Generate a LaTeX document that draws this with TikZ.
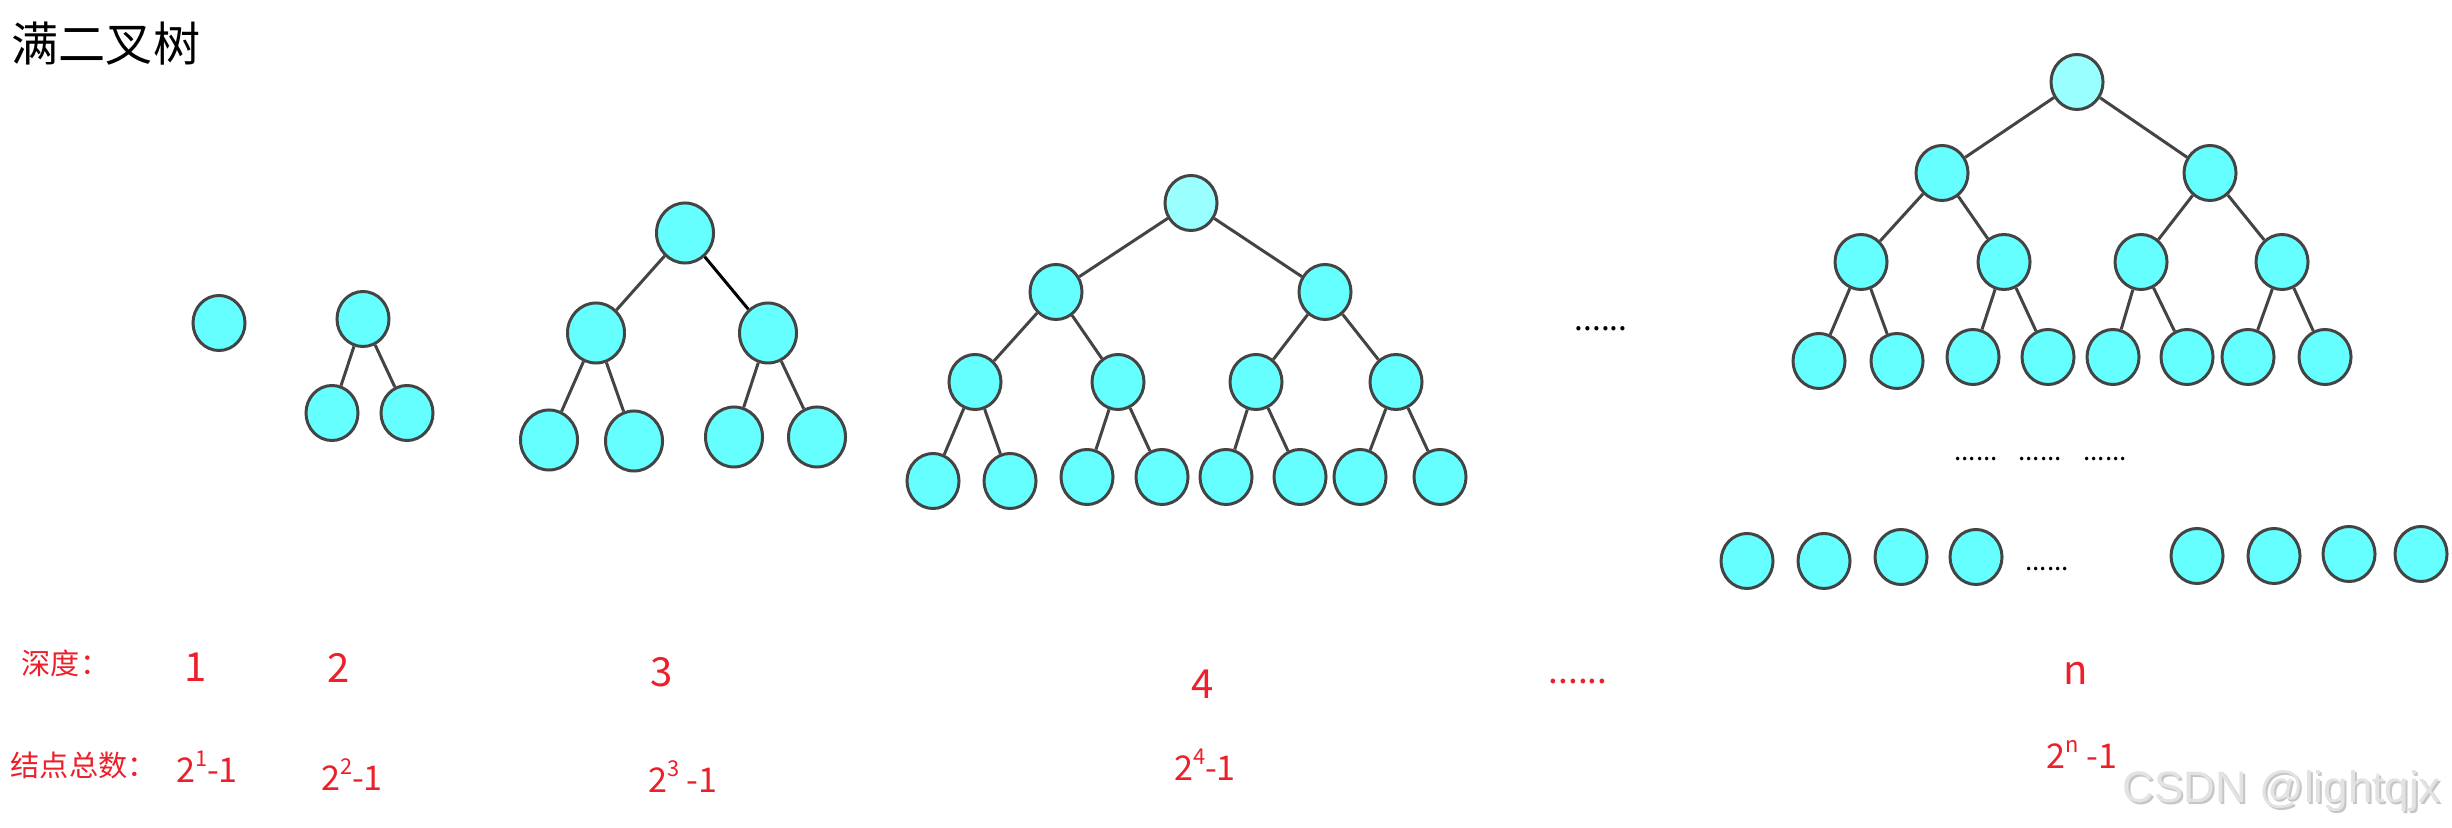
\documentclass[tikz,border=0pt]{standalone}
\usepackage{fontspec}
\setmainfont{Noto Sans CJK SC}
\setsansfont{Liberation Sans}
\usetikzlibrary{shapes.geometric}
\definecolor{nodecyan}{HTML}{66FFFF}
\definecolor{rootcyan}{HTML}{99FFFF}
\definecolor{linegray}{HTML}{444444}
\definecolor{labelred}{RGB}{236,32,42}
\newcommand{\pw}[1]{\raisebox{0.85ex}{\fontsize{6.2}{7}\selectfont #1}}

\begin{document}
\begin{tikzpicture}[x=0.01cm,y=-0.01cm,
    nd/.style={ellipse,draw=linegray,line width=0.85pt,fill=nodecyan,inner sep=0pt,
      minimum width=0.52cm,minimum height=0.55cm},
    bignd/.style={nd,minimum width=0.57cm,minimum height=0.6cm},
    rootnd/.style={nd,fill=rootcyan},
    edge/.style={draw=linegray,line width=0.85pt},
    lbl/.style={text=labelred,inner sep=0pt,font=\fontsize{8.3}{10}\selectfont},
    deep/.style={text=labelred,inner sep=0pt,font=\fontsize{11.4}{13}\selectfont},
    pow/.style={text=labelred,inner sep=0pt,anchor=base,font=\fontsize{9.7}{12}\selectfont},
    dots/.style={inner sep=0pt,font=\fontsize{9}{10}\selectfont}]
  \useasboundingbox (0,0) rectangle (2452,828);

  \node[inner sep=0pt,anchor=west,font=\fontsize{13.4}{16}\selectfont] (title) at (11,44) {满二叉树};

  % depth 1
  \node[nd] (a1) at (219,323) {};

  % depth 2
  \node[nd] (b1) at (363,319) {};
  \node[nd] (b2) at (332,413) {};
  \node[nd] (b3) at (407,413) {};
  \draw[edge] (b1) -- (b2);
  \draw[edge] (b1) -- (b3);

  % depth 3
  \foreach \x/\y [count=\i] in {685/233,596/333,768/333,549/440,634/441,734/437,817/437}
    \node[bignd] (c\i) at (\x,\y) {};
  \draw[edge] (c1) -- (c2);
  \draw[edge,draw=black] (c1) -- (c3);
  \foreach \i in {4,...,7} {
    \pgfmathtruncatemacro\p{\i/2}
    \draw[edge] (c\p) -- (c\i);
  }

  % depth 4
  \node[rootnd] (d1) at (1191,203) {};
  \foreach \x/\y [count=\i from 2] in {1056/292,1325/292,975/382,1118/382,1256/382,1396/382,
      933/481,1010/481,1087/477,1162/477,1226/477,1300/477,1360/477,1440/477}
    \node[nd] (d\i) at (\x,\y) {};
  \foreach \i in {2,...,15} {
    \pgfmathtruncatemacro\p{\i/2}
    \draw[edge] (d\p) -- (d\i);
  }

  \node[dots] (gap) at (1601,329) {......};

  % depth n
  \node[rootnd] (n1) at (2077,82) {};
  \foreach \x/\y [count=\i from 2] in {1942/173,2210/173,1861/262,2004/262,2141/262,2282/262,
      1819/361,1897/361,1973/357,2048/357,2113/357,2187/357,2248/357,2325/357}
    \node[nd] (n\i) at (\x,\y) {};
  \foreach \i in {2,...,15} {
    \pgfmathtruncatemacro\p{\i/2}
    \draw[edge] (n\p) -- (n\i);
  }
  \foreach \x [count=\i] in {1976,2040,2105}
    \node[dots,font=\fontsize{7.4}{9}\selectfont] (m\i) at (\x,459) {......};

  % last level
  \foreach \x/\y [count=\i] in {1747/561,1824/561,1901/557,1976/557,2197/556,2274/556,2349/554,2421/554}
    \node[nd] (z\i) at (\x,\y) {};
  \node[dots,font=\fontsize{7.4}{9}\selectfont] (zgap) at (2047,569) {......};

  % labels
  \node[lbl,anchor=west] (deplbl) at (21,663) {深度：};
  \node[lbl,anchor=west] (numlbl) at (10,765) {结点总数：};

  \node[deep] (h1) at (196,667) {1};
  \node[deep] (h2) at (339,668) {2};
  \node[deep] (h3) at (662,672) {3};
  \node[deep] (h4) at (1203,684) {4};
  \node[deep,font=\fontsize{10}{12}\selectfont] (hgap) at (1578,682) {......};
  \node[deep] (hn) at (2076,673) {n};

  \node[pow] (s1) at (207,782) {2\pw{1}-1};
  \node[pow] (s2) at (352,790) {2\pw{2}-1};
  \node[pow] (s3) at (683,792) {2\pw{3} -1};
  \node[pow] (s4) at (1205,780) {2\pw{4}-1};
  \node[pow] (sn) at (2082,768) {2\pw{n} -1};

  % watermark
  \node[inner sep=0pt,anchor=base west,text=gray!45,font=\sffamily\fontsize{12.5}{14}\selectfont]
    (wms) at (2124,804) {CSDN @lightqjx};
  \node[inner sep=0pt,anchor=base west,text=gray!22,font=\sffamily\fontsize{12.5}{14}\selectfont]
    (wm) at (2122,802) {CSDN @lightqjx};
\end{tikzpicture}
\end{document}
